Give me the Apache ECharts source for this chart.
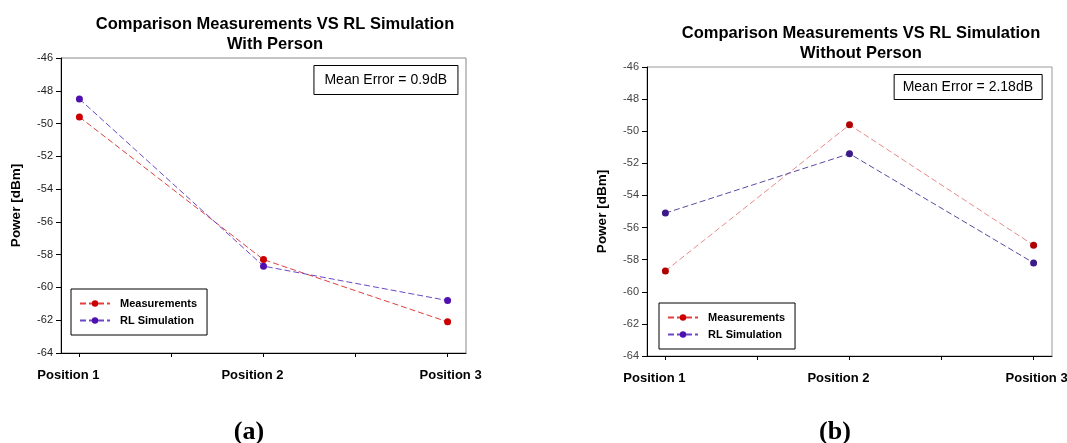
<!DOCTYPE html>
<html>
<head>
<meta charset="utf-8">
<script src="https://cdn.jsdelivr.net/npm/echarts@6/dist/echarts.min.js"></script>
<style>
  html, body { margin: 0; padding: 0; background: #fff; }
  #chart { width: 1067px; height: 443px; }
</style>
</head>
<body>
<div id="chart"></div>
<script>
// positions along the x axis
var positions = ["Position 1", "Position 2", "Position 3"];
var yTicks = [-64, -62, -60, -58, -56, -54, -52, -50, -48, -46];

// (a) with person
var measWithPerson = [-49.6, -58.3, -62.1];
var simWithPerson = [-48.5, -58.7, -60.8];
// (b) without person
var measWithoutPerson = [-58.7, -49.6, -57.1];
var simWithoutPerson = [-55.1, -51.4, -58.2];

var meanErrors = ["Mean Error = 0.9dB", "Mean Error = 2.18dB"];
var titles = [
  "Comparison Measurements VS RL Simulation\nWith Person",
  "Comparison Measurements VS RL Simulation\nWithout Person"
];

var font = "Liberation Sans, Arial, sans-serif";
var serif = "Liberation Serif, Times New Roman, serif";

function pairs(arr) {
  return arr.map(function (v, i) { return [i, v]; });
}

function xAxisFor(gridIndex) {
  return {
    type: "value",
    gridIndex: gridIndex,
    min: -0.1,
    max: 2.1,
    splitLine: { show: false },
    axisLine: { onZero: false, lineStyle: { color: "#000", width: 1 } },
    axisTick: {
      customValues: [0, 0.5, 1, 1.5, 2],
      length: 4,
      lineStyle: { color: "#000" }
    },
    axisLabel: {
      customValues: [0, 1, 2],
      margin: 16,
      formatter: function (v) {
        var i = Math.round(v);
        return i === 2 ? "{c|" + positions[i] + "}" : "{a|" + positions[i] + "}";
      },
      rich: {
        a: { fontFamily: font, fontWeight: "bold", fontSize: 13, color: "#000", padding: [0, 22, 0, 0] },
        c: { fontFamily: font, fontWeight: "bold", fontSize: 13, color: "#000", padding: [0, 0, 4, 6] }
      }
    }
  };
}

function yAxisFor(gridIndex, color) {
  return {
    type: "value",
    gridIndex: gridIndex,
    min: yTicks[0],
    max: yTicks[yTicks.length - 1],
    interval: 2,
    name: "Power [dBm]",
    nameLocation: "middle",
    nameGap: 38,
    nameTextStyle: { fontFamily: font, fontWeight: "bold", fontSize: 13.5, color: "#000" },
    splitLine: { show: false },
    axisLine: { show: true, onZero: false, lineStyle: { color: "#000", width: 1 } },
    axisTick: { show: true, length: 5, lineStyle: { color: "#000" } },
    axisLabel: { fontFamily: font, fontSize: 11, color: color, margin: 8 }
  };
}

function legendFor(left, top) {
  return {
    left: left,
    top: top,
    orient: "vertical",
    backgroundColor: "#fff",
    borderColor: "#000",
    borderWidth: 1,
    borderRadius: 0,
    padding: [9, 10, 9, 8],
    itemWidth: 30,
    itemHeight: 8,
    itemGap: 6,
    selectedMode: false,
    textStyle: { fontFamily: font, fontWeight: "bold", fontSize: 11, color: "#000", padding: [0, 0, 0, 5] },
    data: ["Measurements", "RL Simulation"]
  };
}

function seriesFor(name, data, gridIndex, lineColor, dotColor) {
  return {
    name: name,
    type: "line",
    xAxisIndex: gridIndex,
    yAxisIndex: gridIndex,
    data: pairs(data),
    symbol: "circle",
    symbolSize: 7,
    itemStyle: { color: dotColor },
    lineStyle: { color: lineColor, width: 1, type: [6, 3] },
    animation: false
  };
}

var chart = echarts.init(document.getElementById("chart"));
chart.setOption({
  backgroundColor: "#fff",
  title: [
    {
      text: titles[0], left: 270, top: 9, textAlign: "center",
      textStyle: { fontFamily: font, fontWeight: "bold", fontSize: 16.5, lineHeight: 20, color: "#000" }
    },
    {
      text: titles[1], left: 856, top: 18, textAlign: "center",
      textStyle: { fontFamily: font, fontWeight: "bold", fontSize: 16.5, lineHeight: 20, color: "#000" }
    },
    {
      text: meanErrors[0], right: 609, top: 65, padding: [8, 11],
      borderColor: "#000", borderWidth: 1,
      textStyle: { fontFamily: font, fontWeight: "normal", fontSize: 14, color: "#000" }
    },
    {
      text: meanErrors[1], right: 25, top: 74, padding: [6, 9],
      borderColor: "#000", borderWidth: 1,
      textStyle: { fontFamily: font, fontWeight: "normal", fontSize: 14, color: "#000" }
    },
    {
      text: "(a)", left: 244, top: 414, textAlign: "center",
      textStyle: { fontFamily: serif, fontWeight: "bold", fontSize: 26, color: "#000" }
    },
    {
      text: "(b)", left: 830, top: 414, textAlign: "center",
      textStyle: { fontFamily: serif, fontWeight: "bold", fontSize: 26, color: "#000" }
    }
  ],
  grid: [
    { left: 61, top: 58, width: 405, height: 295, outerBoundsMode: "none", containLabel: false,
      show: true, borderColor: "#888", borderWidth: 1, backgroundColor: "#fff" },
    { left: 647, top: 67, width: 405, height: 289, outerBoundsMode: "none", containLabel: false,
      show: true, borderColor: "#999", borderWidth: 1, backgroundColor: "#fff" }
  ],
  xAxis: [xAxisFor(0), xAxisFor(1)],
  yAxis: [yAxisFor(0, "#222"), yAxisFor(1, "#444")],
  legend: [legendFor(71, 289), legendFor(659, 303)],
  series: [
    seriesFor("Measurements", measWithPerson, 0, "#e04040", "#cc0000"),
    seriesFor("RL Simulation", simWithPerson, 0, "#6a48c8", "#5010b0"),
    seriesFor("Measurements", measWithoutPerson, 1, "#e88a8a", "#b00000"),
    seriesFor("RL Simulation", simWithoutPerson, 1, "#5a4aa0", "#3d1a8a")
  ]
});
</script>
</body>
</html>
